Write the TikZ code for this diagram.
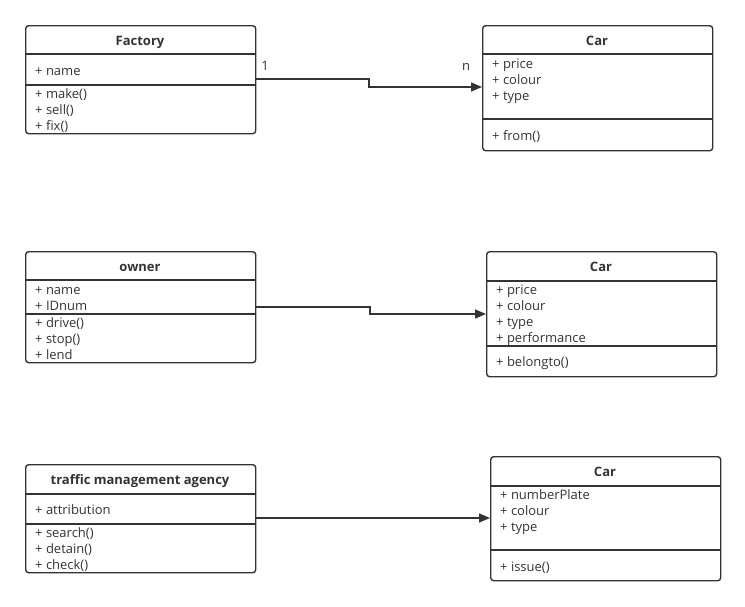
\documentclass[tikz,border=0pt]{standalone}
\usepackage{fontspec}
\setmainfont{Open Sans}
\usetikzlibrary{arrows.meta}
\definecolor{ink}{HTML}{333333}
\begin{document}
\begin{tikzpicture}[x=1pt,y=-1pt,
  classbox/.style={draw=ink, line width=1.4pt, rounded corners=3pt, anchor=north west, inner sep=0pt},
  sepline/.style={draw=ink, line width=1.4pt},
  title/.style={font=\fontsize{13}{15}\selectfont\bfseries, text=ink, anchor=mid, inner sep=0pt, yshift=-2.5pt},
  member/.style={font=\fontsize{13}{15}\selectfont, text=ink, anchor=mid west, inner sep=0pt, yshift=-2.5pt},
  conn/.style={draw=ink, line width=1.4pt, -{Triangle[length=11pt,width=9pt]}},
  mult/.style={font=\fontsize{13}{15}\selectfont, text=ink, anchor=mid, inner sep=0pt, yshift=-2.5pt}]
\useasboundingbox (0,0) rectangle (745,606);

% ---------- Factory ----------
\node[classbox, minimum width=230pt, minimum height=108pt] (factory) at (25,25) {};
\draw[sepline] (25,54) -- (255,54);
\draw[sepline] (25,85) -- (255,85);
\node[title] (factoryT) at (140,40) {Factory};
\node[member] (f1) at (35,70) {+ name};
\node[member] (f2) at (35,93) {+ make()};
\node[member] (f3) at (35,109) {+ sell()};
\node[member] (f4) at (35,125) {+ fix()};

% ---------- Car 1 ----------
\node[classbox, minimum width=230pt, minimum height=125pt] (car1) at (482,25) {};
\draw[sepline] (482,54) -- (712,54);
\draw[sepline] (482,119) -- (712,119);
\node[title] (car1T) at (597,40) {Car};
\node[member] (c11) at (492,63) {+ price};
\node[member] (c12) at (492,79) {+ colour};
\node[member] (c13) at (492,95) {+ type};
\node[member] (c14) at (492,135) {+ from()};

\coordinate (a1s) at (factory.east |- 0,79);
\coordinate (a1e) at (car1.west |- 0,87);
\draw[conn] (a1s) -- (369,79) -- (369,87) -- (a1e);
\node[mult] (m1) at (265,65) {1};
\node[mult] (mn) at (466,65) {n};

% ---------- owner ----------
\node[classbox, minimum width=230pt, minimum height=111pt] (owner) at (25,251) {};
\draw[sepline] (25,280) -- (255,280);
\draw[sepline] (25,314) -- (255,314);
\node[title] (ownerT) at (140,266) {owner};
\node[member] (o1) at (35,289) {+ name};
\node[member] (o2) at (35,305) {+ IDnum};
\node[member] (o3) at (35,322) {+ drive()};
\node[member] (o4) at (35,338) {+ stop()};
\node[member] (o5) at (35,354) {+ lend};

% ---------- Car 2 ----------
\node[classbox, minimum width=230pt, minimum height=125pt] (car2) at (486,251) {};
\draw[sepline] (486,281) -- (716,281);
\draw[sepline] (486,346) -- (716,346);
\node[title] (car2T) at (601,266) {Car};
\node[member] (c21) at (496,289) {+ price};
\node[member] (c22) at (496,305) {+ colour};
\node[member] (c23) at (496,321) {+ type};
\node[member] (c24) at (496,337) {+ performance};
\node[member] (c25) at (496,361) {+ belongto()};

\coordinate (a2s) at (owner.east |- 0,307);
\coordinate (a2e) at (car2.west |- 0,314);
\draw[conn] (a2s) -- (370,307) -- (370,314) -- (a2e);

% ---------- traffic management agency ----------
\node[classbox, minimum width=230pt, minimum height=108pt] (agency) at (25,464) {};
\draw[sepline] (25,494) -- (255,494);
\draw[sepline] (25,524) -- (255,524);
\node[title] (agencyT) at (140,479) {traffic management agency};
\node[member] (g1) at (35,509) {+ attribution};
\node[member] (g2) at (35,532) {+ search()};
\node[member] (g3) at (35,548) {+ detain()};
\node[member] (g4) at (35,564) {+ check()};

% ---------- Car 3 ----------
\node[classbox, minimum width=230pt, minimum height=124pt] (car3) at (490,456) {};
\draw[sepline] (490,486) -- (720,486);
\draw[sepline] (490,550) -- (720,550);
\node[title] (car3T) at (605,471) {Car};
\node[member] (c31) at (500,494) {+ numberPlate};
\node[member] (c32) at (500,510) {+ colour};
\node[member] (c33) at (500,526) {+ type};
\node[member] (c34) at (500,566) {+ issue()};

\coordinate (a3s) at (agency.east |- 0,518);
\coordinate (a3e) at (car3.west |- 0,518);
\draw[conn] (a3s) -- (a3e);
\end{tikzpicture}
\end{document}
